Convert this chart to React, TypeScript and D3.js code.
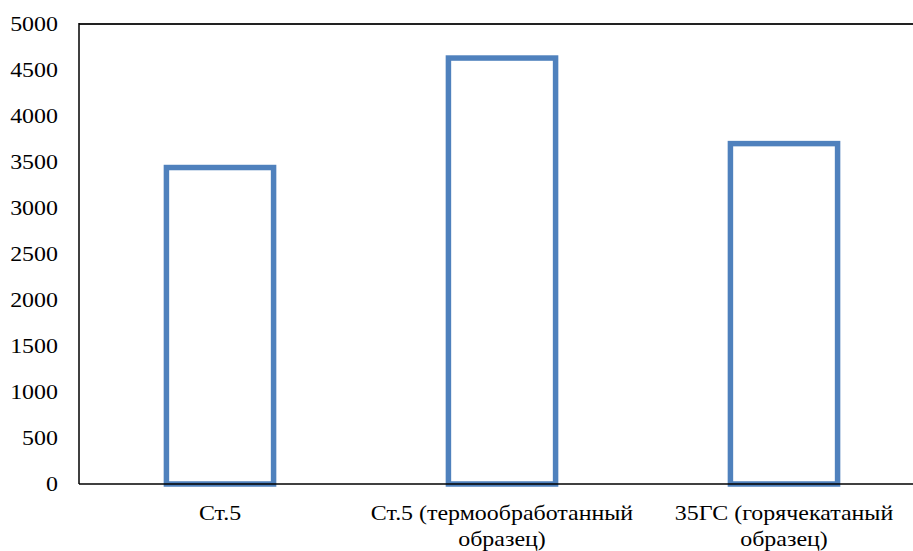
import React, { useEffect, useRef } from 'react';
import * as d3 from 'd3';

const categories: string[][] = [
  ['Ст.5'],
  ['Ст.5 (термообработанный', 'образец)'],
  ['35ГС (горячекатаный', 'образец)'],
];
const values = [3440, 4630, 3700];
const yTicks = [0, 500, 1000, 1500, 2000, 2500, 3000, 3500, 4000, 4500, 5000];

const W = 913;
const H = 551;

const App: React.FC = () => {
  const svgRef = useRef<SVGSVGElement>(null);

  useEffect(() => {
    if (!svgRef.current) return;
    const svg = d3.select(svgRef.current);
    svg.selectAll('*').remove();

    const left = 79;
    const top = 24;
    const bottom = 484;
    const right = 925; // plot area runs past the picture edge

    const x = d3.scaleBand<number>()
      .domain(values.map((_, i) => i))
      .range([left, right])
      .paddingInner(0.62)
      .paddingOuter(0.31);

    const y = d3.scaleLinear().domain([0, 5000]).range([bottom, top]);

    const font = "'Liberation Serif', 'Times New Roman', 'DejaVu Serif', serif";
    const stretch = 1.14; // the source text is a bit wider than it is tall

    // frame: top border, left axis
    svg.append('line')
      .attr('x1', left).attr('x2', W).attr('y1', top).attr('y2', top)
      .attr('stroke', '#222').attr('stroke-width', 2);
    svg.append('line')
      .attr('x1', left).attr('x2', left).attr('y1', top - 1).attr('y2', bottom)
      .attr('stroke', '#000').attr('stroke-width', 1.5);

    // bars
    svg.selectAll('rect.bar')
      .data(values)
      .enter().append('rect')
      .attr('class', 'bar')
      .attr('x', (_, i) => x(i)!)
      .attr('width', x.bandwidth())
      .attr('y', d => y(d))
      .attr('height', d => y(0) - y(d))
      .attr('fill', 'none')
      .attr('stroke', '#4f81bd')
      .attr('stroke-width', 5.5);

    svg.append('line')
      .attr('x1', left).attr('x2', W).attr('y1', bottom).attr('y2', bottom)
      .attr('stroke', '#000').attr('stroke-width', 1.5);

    // y tick labels
    svg.selectAll('text.ytick')
      .data(yTicks)
      .enter().append('text')
      .attr('class', 'ytick')
      .attr('transform', d => `translate(58,${y(d)}) scale(${stretch},1)`)
      .attr('dy', '0.35em')
      .attr('text-anchor', 'end')
      .attr('font-family', font)
      .attr('font-size', 21)
      .attr('fill', '#000')
      .text(d => d);

    // category labels
    const cat = svg.selectAll('text.cat')
      .data(categories)
      .enter().append('text')
      .attr('class', 'cat')
      .attr('transform', (_, i) => `translate(${x(i)! + x.bandwidth() / 2},0) scale(${stretch},1)`)
      .attr('text-anchor', 'middle')
      .attr('font-family', font)
      .attr('font-size', 21)
      .attr('fill', '#000');

    cat.each(function (lines) {
      const t = d3.select(this);
      lines.forEach((ln, j) => {
        t.append('tspan')
          .attr('x', 0)
          .attr('y', 520 + j * 26)
          .text(ln);
      });
    });
  }, []);

  return (
    <div style={{ position: 'fixed', left: 0, top: 0, width: W, height: H, background: '#fff' }}>
      <svg ref={svgRef} width={W} height={H} style={{ display: 'block' }} />
    </div>
  );
};

export default App;
